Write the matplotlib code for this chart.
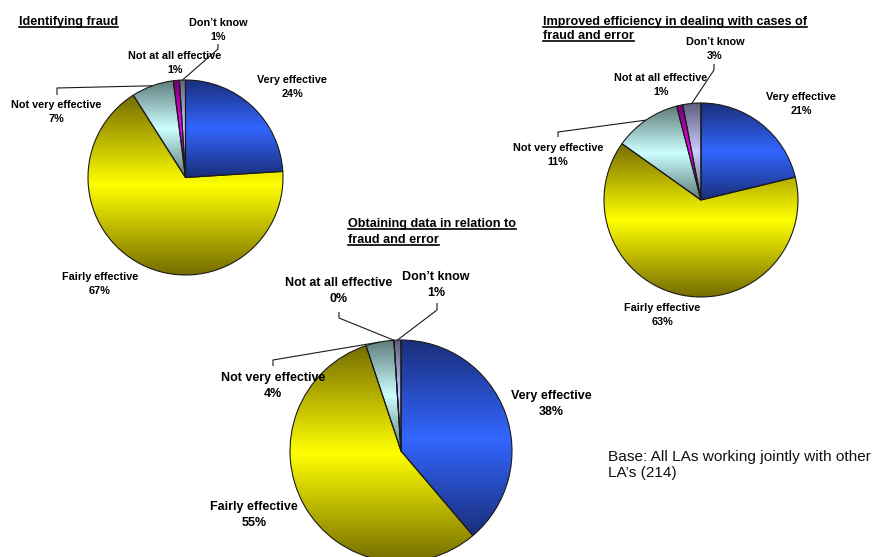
import numpy as np
import matplotlib
matplotlib.use("Agg")
import matplotlib.pyplot as plt
from matplotlib.colors import to_rgb

W, H = 874, 557

categories = ["Very effective", "Fairly effective", "Not very effective",
              "Not at all effective", "Don\u2019t know"]
identifying_fraud = [24, 67, 7, 1, 1]
obtaining_data = [38, 55, 4, 0, 1]
improved_efficiency = [21, 63, 11, 1, 3]

titles = {
    "identifying": ["Identifying fraud"],
    "obtaining": ["Obtaining data in relation to", "fraud and error"],
    "improved": ["Improved efficiency in dealing with cases of", "fraud and error"],
}
base_note = "Base: All LAs working jointly with other\nLA\u2019s (214)"

# gradient end colours for each category: (bright middle, dark edges)
bright = ["#3366FF", "#FFFF00", "#CCFFFF", "#FF00FF", "#CCCCFF"]
dark = ["#1A2E7A", "#756C00", "#5E7C7C", "#70006E", "#5E5E80"]

FONT = "Liberation Sans"

fig = plt.figure(figsize=(W / 100, H / 100), dpi=100)
ax = fig.add_axes([0, 0, 1, 1])


def P(x, y):
    """Pixel position (origin top-left) to data coordinates."""
    return x, H - y


def shaded_pie(values, cx, cy, r):
    wedges, _ = ax.pie(values, center=P(cx, cy), radius=r, startangle=90,
                       counterclock=False, colors=bright, frame=True,
                       wedgeprops=dict(edgecolor="#1a1a1a", linewidth=0.8))
    t = np.linspace(0, 1, 256)
    k = 1 - np.abs(2 * t - 1)
    for w, b, d in zip(wedges, bright, dark):
        w.set_zorder(3)
        ext = w.get_path().get_extents()
        if ext.width < 0.5:
            continue
        w.set_facecolor("none")
        b, d = np.array(to_rgb(b)), np.array(to_rgb(d))
        cols = d[None, :] + (b - d)[None, :] * k[:, None]
        im = ax.imshow(cols[:, None, :], extent=(ext.x0, ext.x1, ext.y0, ext.y1),
                       origin="upper", interpolation="bilinear", aspect="auto",
                       zorder=2)
        im.set_clip_path(w)
    return wedges


def edge_point(w, frac=1.0):
    mid = np.deg2rad((w.theta1 + w.theta2) / 2)
    cx, cy = w.center
    return cx + w.r * frac * np.cos(mid), cy + w.r * frac * np.sin(mid)


def label(x, y, name, value, size, spacing=1.38):
    ax.text(*P(x, y), f"{name}\n{value}%", ha="center", va="center",
            fontsize=size, fontweight="bold", family=FONT, linespacing=spacing,
            zorder=5)


def leader(wedge, tx, ty0, ty1):
    ex, ey = edge_point(wedge)
    xs = [tx, tx, ex]
    ys = [H - ty0, H - ty1, ey]
    ax.plot(xs, ys, color="#1a1a1a", lw=0.8, zorder=4, solid_capstyle="butt")


def title(x, y, lines, size, step):
    for i, line in enumerate(lines):
        ax.text(*P(x, y + i * step), line, ha="left", va="center",
                fontsize=size, fontweight="bold", family=FONT, zorder=5,
                gid="title")


# --- Identifying fraud -------------------------------------------------
w1 = shaded_pie(identifying_fraud, 185.5, 177.5, 97.5)
title(19, 22, titles["identifying"], 9.1, 14)
lab1 = [(292, 87), (100, 284), (56, 112), (175, 63), (218, 30)]
for (x, y), n, v in zip(lab1, categories, identifying_fraud):
    label(x, y, n, v, 7.8)
leader(w1[2], 57, 95, 88)
leader(w1[4], 218, 44, 49)

# --- Improved efficiency ------------------------------------------------
w2 = shaded_pie(improved_efficiency, 701, 200, 97)
title(543, 22, titles["improved"], 9.1, 14)
lab2 = [(801, 104), (662, 315), (558, 155), (661, 85), (715, 49)]
for (x, y), n, v in zip(lab2, categories, improved_efficiency):
    label(x, y, n, v, 7.8)
leader(w2[2], 558, 137, 132)
leader(w2[4], 714, 64, 70)

# --- Obtaining data ------------------------------------------------------
w3 = shaded_pie(obtaining_data, 401, 451, 111)
title(348, 224, titles["obtaining"], 9.1, 16)
lab3 = [(551, 404), (254, 515), (273, 386), (339, 291), (436, 285)]
for (x, y), n, v in zip(lab3, categories, obtaining_data):
    label(x, y, n, v, 9.0, spacing=1.35)
leader(w3[2], 273, 366, 360)
leader(w3[3], 339, 312, 318)
leader(w3[4], 437, 303, 310)

ax.text(*P(608, 465), base_note, ha="left", va="center", fontsize=11.1,
        family=FONT, linespacing=1.2, color="#111111")

ax.set_xlim(0, W)
ax.set_ylim(0, H)
ax.set_aspect("equal")
ax.axis("off")

# underline the chart titles
fig.canvas.draw()
renderer = fig.canvas.get_renderer()
inv = ax.transData.inverted()
for txt in ax.texts:
    if txt.get_gid() != "title":
        continue
    bb = txt.get_window_extent(renderer)
    (x0, y0), (x1, _) = inv.transform([(bb.x0, bb.y0), (bb.x1, bb.y1)])
    ax.plot([x0, x1], [y0 + 1.5, y0 + 1.5], color="black", lw=1.2, zorder=5)

fig.savefig("out.png", dpi=100)
